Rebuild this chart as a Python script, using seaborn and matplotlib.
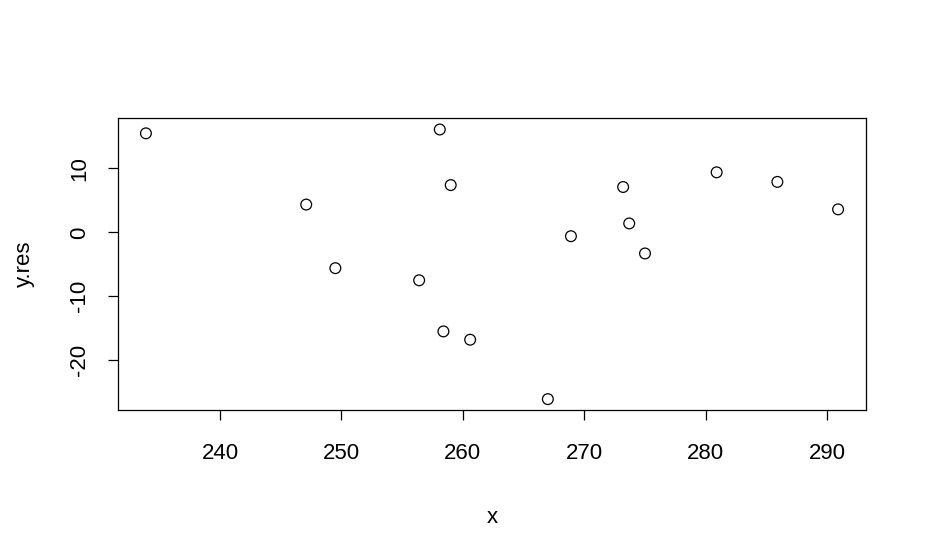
import matplotlib
matplotlib.use("Agg")
import matplotlib.pyplot as plt
import seaborn as sns
import pandas as pd

# residual values
x = [233.9, 247.1, 249.5, 256.4, 258.1, 258.4, 259.0, 260.6,
     267.0, 268.9, 273.2, 273.7, 275.0, 280.9, 285.9, 290.9]
y_res = [15.5, 4.35, -5.6, -7.5, 16.1, -15.5, 7.4, -16.8,
         -26.1, -0.6, 7.1, 1.4, -3.3, 9.4, 7.9, 3.6]

x_ticks = [240, 250, 260, 270, 280, 290]
y_ticks = [-20, -10, 0, 10]

df = pd.DataFrame({"x": x, "y.res": y_res})

sns.set_style("white")
plt.rcParams['font.family'] = ['Liberation Sans', 'DejaVu Sans']
plt.rcParams['axes.unicode_minus'] = False  # R style hyphen minus

fig = plt.figure(figsize=(9.28, 5.58), dpi=100)
ax = fig.add_axes([118/928, 1 - 410/558, (866-118)/928, (410-118)/558])

sns.scatterplot(data=df, x="x", y="y.res", ax=ax, s=60,
                facecolor="none", edgecolor="black", linewidth=0.9)

ax.set_xlim(231.6, 293.2)
ax.set_ylim(-27.8, 17.9)
ax.set_xticks(x_ticks)
ax.set_yticks(y_ticks)
ax.tick_params(axis="both", direction="out", length=7, width=0.9,
               labelsize=16, colors="black", bottom=True, left=True)
ax.tick_params(axis="x", pad=17)
ax.tick_params(axis="y", pad=13)
for lab in ax.get_yticklabels():
    lab.set_rotation(90)
    lab.set_va("center")
for sp in ax.spines.values():
    sp.set_color("black")
    sp.set_linewidth(0.9)

ax.set_xlabel("x", fontsize=16, labelpad=31, color="black")
ax.set_ylabel("y.res", fontsize=16, labelpad=25, color="black")

fig.savefig("out.png", dpi=100, facecolor="white")
